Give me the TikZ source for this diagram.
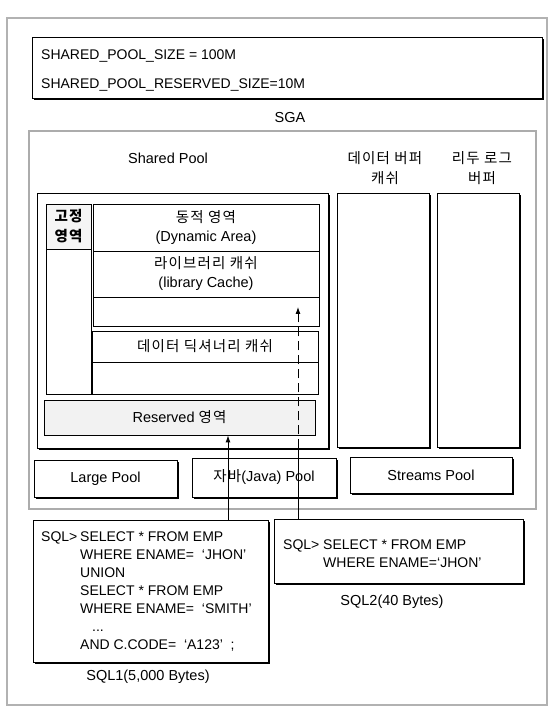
\documentclass[tikz,border=0pt]{standalone}
\usepackage{fontspec}
\setmainfont{Liberation Sans}
\newfontfamily\kr[LetterSpace=8]{Noto Sans CJK KR}
\newcommand\K[1]{{\kr #1}}
\usetikzlibrary{arrows.meta,shadows}
\begin{document}
\begin{tikzpicture}[x=1pt,y=1pt,
  box/.style={draw, line width=0.9pt, fill=white, inner sep=0pt, align=center,
    font=\fontsize{14.5}{19}\selectfont},
  sbox/.style={box, drop shadow={shadow xshift=2.4pt, shadow yshift=-2.4pt, fill=black, opacity=1}},
  lbl/.style={inner sep=0pt, align=center, font=\fontsize{14.5}{20}\selectfont},
  code/.style={inner sep=0pt, align=left, font=\fontsize{14}{18}\selectfont},
  arr/.style={line width=0.9pt, -{Latex[length=7pt,width=5pt]}},
  link/.style={line width=0.9pt}
]
\useasboundingbox (0,0) rectangle (558,717);
% outer frame
\node[draw=gray!60, line width=1.2pt, minimum width=540, minimum height=687, inner sep=0pt] (outer) at (277,355.5) {};
% settings
\node[sbox, minimum width=510, minimum height=61] (settings) at (287,649.5) {};
\node[code, anchor=west] (set1) at (41,661) {SHARED\_POOL\_SIZE = 100M};
\node[code, anchor=west] (set2) at (41,632) {SHARED\_POOL\_RESERVED\_SIZE=10M};
% SGA
\node[lbl] (sgalbl) at (290,599) {SGA};
\node[draw=gray!65, line width=1.8pt, minimum width=507, minimum height=378, inner sep=0pt] (sga) at (282.5,397) {};
% labels
\node[lbl] (splbl) at (168,559) {Shared Pool};
\node[lbl] (dblbl) at (385,549) {\K{데이터 버퍼}\\\K{캐쉬}};
\node[lbl] (rllbl) at (482,549) {\K{리두 로그}\\\K{버퍼}};
% big boxes
\node[sbox, minimum width=291, minimum height=255] (sp) at (182.5,396.5) {};
\node[sbox, minimum width=92, minimum height=254] (db) at (383,397) {};
\node[sbox, minimum width=82, minimum height=254] (rl) at (478,397) {};
% fixed area
\node[box, minimum width=45, minimum height=190] (fixcol) at (68.5,418) {};
\node[box, minimum width=45, minimum height=45, fill=gray!8, font=\fontsize{14.5}{20}\selectfont\bfseries] (fixhd) at (68.5,490.5) {\K{고정}\\\K{영역}};
% dynamic area
\node[box, minimum width=226, minimum height=47] (dyn) at (206,489.5) {\K{동적 영역}\\(Dynamic Area)};
\node[box, minimum width=226, minimum height=46] (lib) at (206,443) {\K{라이브러리 캐쉬}\\(library Cache)};
\node[box, minimum width=226, minimum height=29] (libe) at (206,405.5) {};
\node[box, minimum width=226, minimum height=31] (dd) at (205,370.5) {\K{데이터 딕셔너리 캐쉬}};
\node[box, minimum width=226, minimum height=32] (dde) at (205,339) {};
\node[box, minimum width=271, minimum height=35, fill=gray!10] (res) at (179.5,299.5) {Reserved \K{영역}};
% pools
\node[sbox, minimum width=143, minimum height=37] (large) at (105.5,238.5) {Large Pool};
\node[sbox, minimum width=144, minimum height=39] (java) at (264,239.5) {\K{자바}(Java) Pool};
\node[sbox, minimum width=162, minimum height=36] (streams) at (431,242) {Streams Pool};
% SQL boxes
\node[sbox, minimum width=235, minimum height=142] (sql1) at (150.5,126) {};
\node[code, anchor=west] (sql1t) at (41,125) {\makebox[39pt][l]{SQL>}SELECT * FROM EMP\\
\hspace*{39pt}WHERE ENAME= \ `JHON'\\
\hspace*{39pt}UNION\\
\hspace*{39pt}SELECT * FROM EMP\\
\hspace*{39pt}WHERE ENAME= \ `SMITH'\\
\hspace*{51pt}...\\
\hspace*{39pt}AND C.CODE= \ `A123' \ ;};
\node[lbl] (sql1l) at (148,40) {SQL1(5,000 Bytes)};
\node[sbox, minimum width=249, minimum height=64] (sql2) at (398.5,166) {};
\node[code, anchor=west] (sql2t) at (283,163) {\makebox[40pt][l]{SQL>}SELECT * FROM EMP\\
\hspace*{40pt}WHERE ENAME=`JHON'};
\node[lbl] (sql2l) at (392,115) {SQL2(40 Bytes)};
% connectors
\coordinate (c1) at (228,0);
\coordinate (c2) at (298,0);
\coordinate (c2tip) at (298,410);
\draw[arr] (c1 |- sql1.north) -- (c1 |- res.south);
\draw[link] (c2 |- sql2.north) -- (c2 |- sp.south);
\draw[arr, dash pattern=on 9pt off 5pt] (c2 |- sp.south) -- (c2tip);
\end{tikzpicture}
\end{document}
